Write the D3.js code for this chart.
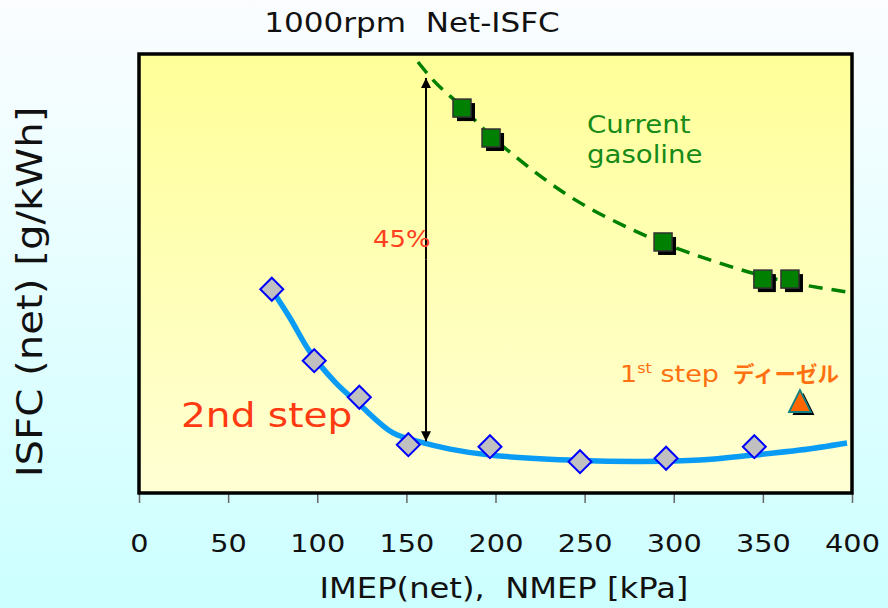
<!DOCTYPE html>
<html>
<head>
<meta charset="utf-8">
<script src="https://cdn.jsdelivr.net/npm/d3@7"></script>
<style>
  html, body { margin: 0; padding: 0; }
  body { width: 888px; height: 608px; overflow: hidden; }
  svg text { font-family: "DejaVu Sans", Verdana, sans-serif; }
</style>
</head>
<body>
<svg id="chart" width="888" height="608"></svg>
<script>
// ---- Data (y units are approximate ISFC values) ----
const xTicks = [0, 50, 100, 150, 200, 250, 300, 350, 400];

// Current gasoline measured points
const gasX = [181.2, 197.5, 294.0, 350.0, 365.2];
const gasY = [392.9, 377.9, 325.8, 307.2, 307.2];
// Current gasoline trend (dashed)
const gasCurveX = [156.5, 164.9, 180.1, 196.9, 212.1, 240.1, 277.1, 320.3, 359.6, 397.8];
const gasCurveY = [416.0, 407.0, 394.4, 379.4, 367.9, 349.5, 331.8, 316.8, 306.7, 300.7];

// 2nd step measured points
const stepX = [74.5, 98.3, 123.6, 151.1, 196.9, 247.4, 295.7, 345.2];
const stepY = [302.1, 266.3, 248.0, 224.2, 223.2, 215.7, 217.4, 223.2];
// 2nd step trend (solid)
const stepCurveX = [74.6, 84.7, 95.9, 110.0, 124.0, 142.5, 157.6, 174.5, 196.9, 247.4, 281.1, 314.7, 345.0, 370.8, 397.2];
const stepCurveY = [301.7, 287.7, 270.7, 255.6, 244.1, 230.1, 225.6, 222.0, 219.0, 216.3, 215.8, 216.5, 219.0, 221.5, 225.1];

// 1st step diesel point
const dieselX = [370.8];
const dieselY = [244.6];

// 45% arrow
const arrowX = 161;
const arrowTop = 408;
const arrowBottom = 225.9;

const xDomain = [0, 400];
const yDomain = [200, 420];

// ---- Layout ----
const W = 888, H = 608;
const plot = { left: 139, top: 54, right: 852, bottom: 493 };
const SX = 1.15; // horizontal text stretch seen in the reference

const svg = d3.select("#chart");
const defs = svg.append("defs");

const pageGrad = defs.append("linearGradient").attr("id", "pageGrad")
  .attr("x1", 0).attr("y1", 0).attr("x2", 0).attr("y2", 1);
pageGrad.append("stop").attr("offset", "0%").attr("stop-color", "#fbfdff");
pageGrad.append("stop").attr("offset", "100%").attr("stop-color", "#ccffff");

const plotGrad = defs.append("linearGradient").attr("id", "plotGrad")
  .attr("x1", 0).attr("y1", 0).attr("x2", 0).attr("y2", 1);
plotGrad.append("stop").attr("offset", "0%").attr("stop-color", "#ffff99");
plotGrad.append("stop").attr("offset", "100%").attr("stop-color", "#ffffd4");

defs.append("marker").attr("id", "arrowHead")
  .attr("viewBox", "0 0 10 10").attr("refX", 10).attr("refY", 5)
  .attr("markerWidth", 5).attr("markerHeight", 5).attr("orient", "auto")
  .attr("markerUnits", "strokeWidth")
  .append("path").attr("d", "M0,0 L10,5 L0,10 Z").attr("fill", "#000");

svg.append("rect").attr("width", W).attr("height", H).attr("fill", "url(#pageGrad)");

const x = d3.scaleLinear().domain(xDomain).range([plot.left, plot.right]);
const y = d3.scaleLinear().domain(yDomain).range([plot.bottom, plot.top]);

// plot background
svg.append("rect")
  .attr("x", plot.left).attr("y", plot.top)
  .attr("width", plot.right - plot.left).attr("height", plot.bottom - plot.top)
  .attr("fill", "url(#plotGrad)");

// x axis
const xAxis = d3.axisBottom(x).tickValues(xTicks).tickSize(9)
  .tickFormat(d3.format("d"));
const gx = svg.append("g").attr("transform", `translate(0,${plot.bottom + 1})`).call(xAxis);
gx.select(".domain").remove();
gx.selectAll(".tick line").attr("stroke", "#666").attr("stroke-width", 1.5);
gx.selectAll(".tick text").attr("font-size", 25).attr("fill", "#111")
  .attr("y", 58).attr("dy", 0)
  .attr("transform", `scale(${SX},1)`)
  .style("font-family", "'DejaVu Sans', Verdana, sans-serif");

// curves
const lineSmooth = d3.line().x(d => x(d[0])).y(d => y(d[1])).curve(d3.curveMonotoneX);
const lineCR = d3.line().x(d => x(d[0])).y(d => y(d[1])).curve(d3.curveCatmullRom.alpha(0.5));

svg.append("path")
  .datum(gasCurveX.map((v, i) => [v, gasCurveY[i]]))
  .attr("d", lineSmooth).attr("fill", "none")
  .attr("stroke", "#008000").attr("stroke-width", 3.5)
  .attr("stroke-dasharray", "14,9");

svg.append("path")
  .datum(stepCurveX.map((v, i) => [v, stepCurveY[i]]))
  .attr("d", lineCR).attr("fill", "none")
  .attr("stroke", "#0a9cf5").attr("stroke-width", 5.5);

// arrow
svg.append("line")
  .attr("x1", x(arrowX)).attr("x2", x(arrowX))
  .attr("y1", y((arrowTop + arrowBottom) / 2)).attr("y2", y(arrowTop))
  .attr("stroke", "#000").attr("stroke-width", 2).attr("marker-end", "url(#arrowHead)");
svg.append("line")
  .attr("x1", x(arrowX)).attr("x2", x(arrowX))
  .attr("y1", y((arrowTop + arrowBottom) / 2)).attr("y2", y(arrowBottom))
  .attr("stroke", "#000").attr("stroke-width", 2).attr("marker-end", "url(#arrowHead)");

// gasoline squares with shadow
const sq = 18, off = 4;
const gasPts = gasX.map((v, i) => [v, gasY[i]]);
svg.append("g").selectAll("rect").data(gasPts).join("rect")
  .attr("x", d => x(d[0]) - sq / 2 + off).attr("y", d => y(d[1]) - sq / 2 + off)
  .attr("width", sq).attr("height", sq).attr("fill", "#000");
svg.append("g").selectAll("rect").data(gasPts).join("rect")
  .attr("x", d => x(d[0]) - sq / 2).attr("y", d => y(d[1]) - sq / 2)
  .attr("width", sq).attr("height", sq).attr("fill", "#008000")
  .attr("stroke", "#333").attr("stroke-width", 1.5);

// 2nd step diamonds
const dsz = 11.5;
svg.append("g").selectAll("path").data(stepX.map((v, i) => [v, stepY[i]])).join("path")
  .attr("d", d => {
    const cx = x(d[0]), cy = y(d[1]);
    return `M${cx},${cy - dsz} L${cx + dsz},${cy} L${cx},${cy + dsz} L${cx - dsz},${cy} Z`;
  })
  .attr("fill", "#c0c0c0").attr("stroke", "#0000ff").attr("stroke-width", 2);

// diesel triangle with shadow
const tri = (cx, cy) => `M${cx},${cy - 14} L${cx + 11},${cy + 8} L${cx - 11},${cy + 8} Z`;
const dPts = dieselX.map((v, i) => [v, dieselY[i]]);
svg.append("g").selectAll("path").data(dPts).join("path")
  .attr("d", d => tri(x(d[0]) + 3.5, y(d[1]) + 3)).attr("fill", "#000");
svg.append("g").selectAll("path").data(dPts).join("path")
  .attr("d", d => tri(x(d[0]), y(d[1]))).attr("fill", "#ff6600")
  .attr("stroke", "#118080").attr("stroke-width", 1.8);

// plot border
svg.append("rect")
  .attr("x", plot.left).attr("y", plot.top)
  .attr("width", plot.right - plot.left).attr("height", plot.bottom - plot.top)
  .attr("fill", "none").attr("stroke", "#000").attr("stroke-width", 3.5);

// texts (stretched horizontally like the reference)
function label(tx, ty, size, color, str, opts = {}) {
  const g = svg.append("g")
    .attr("transform", `translate(${tx},${ty})${opts.rotate ? " rotate(" + opts.rotate + ")" : ""} scale(${opts.sx || SX},1)`);
  const t = g.append("text").attr("x", 0).attr("y", 0)
    .attr("font-size", size).attr("fill", color)
    .attr("text-anchor", opts.anchor || "start");
  if (opts.weight) t.attr("font-weight", opts.weight);
  if (opts.family) t.style("font-family", opts.family);
  t.text(str);
  return t;
}

label(412, 32, 27, "#111", "1000rpm\u00a0\u00a0Net-ISFC", { anchor: "middle" });
label(504, 598, 28, "#111", "IMEP(net),\u00a0\u00a0NMEP [kPa]", { anchor: "middle" });
label(42, 292, 35, "#111", "ISFC (net) [g/kWh]", { anchor: "middle", rotate: -90 });

label(587, 133, 24, "#178a17", "Current");
label(587, 163, 24, "#178a17", "gasoline");

label(373, 247, 22.5, "#ff4020", "45%");
label(181, 427, 34, "#ff3a10", "2nd step");

const ds = label(620, 382, 23.5, "#ff7010", "");
ds.append("tspan").text("1");
ds.append("tspan").attr("font-size", 14).attr("dy", -9).text("st");
ds.append("tspan").attr("dy", 9).text(" step");
label(733, 382, 21.5, "#ff7010", "ディーゼル",
  { sx: 1, weight: "bold", family: "'Noto Sans CJK JP', sans-serif" });
</script>
</body>
</html>
